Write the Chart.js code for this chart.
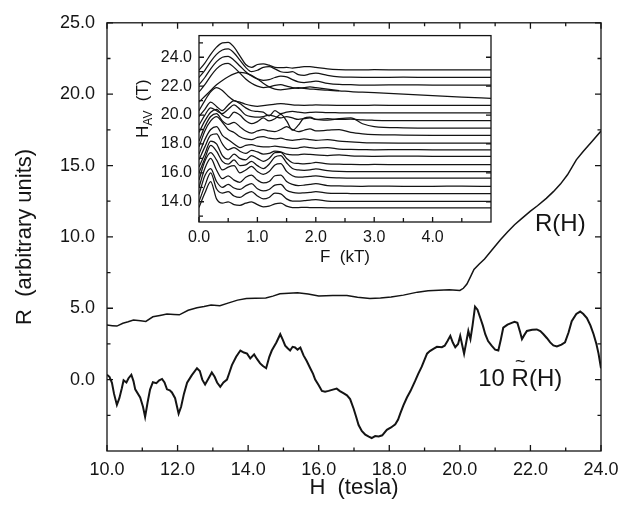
<!DOCTYPE html>
<html>
<head>
<meta charset="utf-8">
<script src="https://cdn.jsdelivr.net/npm/chart.js@4.4.0/dist/chart.umd.min.js"></script>
<style>
  html, body { margin: 0; padding: 0; background: #fff; }
  #wrap { position: relative; width: 629px; height: 505px; }
  #mainChart { position: absolute; left: 0; top: 0; }
  #insetChart { position: absolute; left: 120px; top: 19px; }
</style>
</head>
<body>
<div id="wrap">
  <canvas id="mainChart" width="629" height="505"></canvas>
  <canvas id="insetChart" width="380" height="263"></canvas>
</div>
<script>
// Main panel: R(H)
const rH   = [10.0, 10.15, 10.28, 10.45, 10.6, 10.75, 10.95, 11.1, 11.3, 11.5,
              11.7, 11.9, 12.05, 12.3, 12.55, 12.75, 12.95, 13.2, 13.45, 13.7,
              13.95, 14.2, 14.5, 14.7, 14.9, 15.15, 15.4, 15.7, 16.0, 16.4,
              16.8, 17.1, 17.45, 17.75, 18.05, 18.4, 18.8, 19.1, 19.4, 19.7,
              20.0, 20.1, 20.2, 20.3, 20.4, 20.55, 20.7, 20.95, 21.15, 21.35,
              21.55, 21.75, 22.0, 22.2, 22.45, 22.65, 22.85, 23.05, 23.3, 23.5,
              23.75, 24.0];
const rVal = [3.82, 3.78, 3.75, 3.95, 4.05, 4.18, 4.12, 4.08, 4.40, 4.50,
              4.59, 4.56, 4.54, 4.86, 5.04, 5.12, 5.22, 5.18, 5.38, 5.57,
              5.68, 5.70, 5.72, 5.85, 6.02, 6.05, 6.09, 6.00, 5.86, 5.90,
              5.90, 5.78, 5.68, 5.72, 5.79, 5.92, 6.13, 6.22, 6.27, 6.29,
              6.25, 6.40, 6.70, 7.20, 7.72, 8.10, 8.45, 9.20, 9.80, 10.35,
              10.85, 11.28, 11.80, 12.18, 12.70, 13.17, 13.70, 14.35, 15.40, 16.00,
              16.70, 17.42];

// Main panel: 10 R~(H)
const tildeH = [10.0, 10.07, 10.14, 10.2, 10.28, 10.35, 10.42, 10.47, 10.55, 10.61,
                10.69, 10.75, 10.8, 10.94, 11.02, 11.08, 11.15, 11.22, 11.3, 11.4,
                11.48, 11.56, 11.63, 11.7, 11.78, 11.84, 11.93, 12.03, 12.1, 12.18,
                12.27, 12.4, 12.55, 12.63, 12.7, 12.78, 12.88, 12.97, 13.05, 13.12,
                13.21, 13.3, 13.4, 13.47, 13.54, 13.66, 13.78, 13.88, 13.97, 14.06,
                14.17, 14.25, 14.34, 14.42, 14.51, 14.6, 14.67, 14.8, 14.91, 14.98,
                15.05, 15.12, 15.19, 15.26, 15.33, 15.4, 15.48, 15.57, 15.66, 15.76,
                15.84, 15.9, 16.0, 16.09, 16.18, 16.28, 16.4, 16.51, 16.6, 16.7,
                16.8, 16.89, 16.99, 17.06, 17.13, 17.22, 17.32, 17.42, 17.5, 17.6,
                17.7, 17.8, 17.93, 18.05, 18.17, 18.25, 18.31, 18.4, 18.5, 18.6,
                18.73, 18.82, 18.92, 19.0, 19.07, 19.15, 19.25, 19.35, 19.49, 19.57,
                19.65, 19.73, 19.8, 19.87, 19.95, 20.01, 20.06, 20.12, 20.18, 20.24,
                20.3, 20.36, 20.43, 20.5, 20.58, 20.65, 20.72, 20.8, 20.9, 21.0,
                21.09, 21.16, 21.23, 21.35, 21.47, 21.55, 21.63, 21.7, 21.76, 21.82,
                21.9, 22.05, 22.18, 22.28, 22.37, 22.47, 22.56, 22.65, 22.75, 22.88,
                22.98, 23.08, 23.17, 23.3, 23.41, 23.5, 23.6, 23.7, 23.79, 23.87,
                23.93, 24.0];
const tildeVal = [0.34, 0.20, -0.22, -1.00, -1.77, -1.30, -0.60, -0.04, -0.20, 0.10,
                  0.34, -0.10, -0.68, -1.25, -1.90, -2.61, -1.60, -0.70, -0.18, -0.25,
                  -0.05, 0.05, -0.20, -0.68, -0.75, -0.90, -1.30, -2.38, -1.90, -1.00,
                  -0.22, 0.30, 0.80, 0.60, 0.00, -0.34, 0.10, 0.50, 0.20, -0.20,
                  -0.50, -0.20, 0.00, 0.50, 1.02, 1.60, 2.04, 1.90, 1.82, 1.48,
                  1.77, 1.45, 1.14, 0.95, 0.80, 1.60, 2.04, 2.60, 3.18, 2.80,
                  2.38, 2.20, 2.04, 2.30, 2.25, 2.10, 2.25, 1.70, 1.30, 0.80,
                  0.40, 0.00, -0.40, -0.79, -0.85, -0.79, -0.70, -0.63, -0.80, -0.95,
                  -1.10, -1.36, -2.04, -2.60, -3.18, -3.60, -3.86, -4.00, -4.09, -3.95,
                  -3.98, -3.90, -3.52, -3.35, -3.13, -2.80, -2.38, -1.80, -1.25, -0.80,
                  -0.11, 0.40, 0.91, 1.40, 1.82, 2.00, 2.16, 2.30, 2.27, 2.38,
                  2.70, 3.07, 2.60, 2.27, 2.50, 3.07, 2.50, 1.82, 2.60, 3.41,
                  2.84, 3.80, 5.11, 4.90, 4.32, 3.80, 3.18, 2.70, 2.38, 2.10,
                  2.04, 2.80, 3.64, 3.85, 3.98, 4.05, 3.98, 3.40, 2.84, 3.10,
                  3.41, 3.50, 3.52, 3.40, 3.18, 2.90, 2.61, 2.40, 2.32, 2.45,
                  2.61, 3.30, 4.09, 4.60, 4.77, 4.60, 4.32, 3.80, 3.18, 2.50,
                  1.82, 0.80];

const mainHTicks = [10, 12, 14, 16, 18, 20, 22, 24];
const mainRTicks = [0, 5, 10, 15, 20, 25];
const mainHMinor = [11, 13, 15, 17, 19, 21, 23];
const mainRMinor = [-2.5, 2.5, 7.5, 12.5, 17.5, 22.5];

// Inset: Fourier spectra, one per averaging field H_AV
const insetF = [0, 0.1, 0.2, 0.3, 0.4, 0.5, 0.6, 0.7, 0.8, 0.9,
                1.0, 1.1, 1.2, 1.3, 1.4, 1.5, 1.6, 1.7, 1.8, 1.9,
                2.0, 2.2, 2.4, 2.6, 2.8, 3.0, 3.5, 4.0, 4.5, 5.0];
const h135 = [13.60, 14.60, 15.40, 14.20, 13.90, 14.00, 13.80, 13.75, 13.90, 14.00,
              13.80, 13.65, 13.70, 13.85, 13.90, 13.70, 13.60, 13.60, 13.62, 13.60,
              13.60, 13.58, 13.58, 13.57, 13.57, 13.57, 13.58, 13.57, 13.57, 13.57];
const h140 = [14.00, 15.10, 16.00, 14.90, 14.60, 14.70, 14.40, 14.30, 14.55, 14.70,
              14.40, 14.20, 14.30, 14.60, 14.55, 14.20, 14.05, 14.05, 14.08, 14.12,
              14.15, 14.05, 14.03, 14.02, 14.02, 14.03, 14.02, 14.02, 14.03, 14.02];
const h145 = [14.50, 15.80, 16.30, 15.40, 15.00, 15.20, 14.95, 14.85, 15.10, 15.25,
              14.90, 14.75, 14.85, 15.15, 15.20, 14.80, 14.65, 14.60, 14.62, 14.65,
              14.70, 14.60, 14.58, 14.57, 14.56, 14.56, 14.57, 14.56, 14.56, 14.56];
const h150 = [15.00, 16.30, 17.00, 16.20, 15.60, 15.80, 15.50, 15.35, 15.70, 15.85,
              15.50, 15.30, 15.40, 15.80, 15.85, 15.40, 15.20, 15.12, 15.15, 15.20,
              15.25, 15.12, 15.10, 15.08, 15.07, 15.08, 15.07, 15.07, 15.08, 15.07];
const h155 = [15.50, 16.80, 17.40, 16.90, 16.20, 16.40, 16.50, 16.00, 16.20, 16.45,
              16.10, 15.90, 16.10, 16.55, 16.64, 16.10, 15.80, 15.70, 15.72, 15.75,
              15.80, 15.68, 15.65, 15.64, 15.63, 15.63, 15.64, 15.63, 15.63, 15.63];
const h160 = [16.00, 17.00, 17.90, 17.50, 16.80, 16.60, 16.90, 16.50, 16.55, 16.80,
              16.50, 16.30, 16.60, 17.10, 17.20, 16.70, 16.30, 16.20, 16.18, 16.20,
              16.28, 16.15, 16.10, 16.09, 16.08, 16.09, 16.08, 16.08, 16.09, 16.08];
const h165 = [16.40, 17.30, 18.20, 18.00, 17.20, 16.95, 17.30, 17.00, 16.90, 17.20,
              17.00, 16.80, 17.00, 17.40, 17.42, 17.00, 16.70, 16.65, 16.62, 16.65,
              16.72, 16.62, 16.60, 16.58, 16.57, 16.58, 16.57, 16.57, 16.57, 16.57];
const h170 = [16.90, 17.80, 18.60, 18.70, 18.00, 17.60, 17.75, 17.50, 17.35, 17.55,
              17.45, 17.30, 17.35, 17.50, 17.45, 17.30, 17.25, 17.25, 17.30, 17.28,
              17.25, 17.20, 17.25, 17.18, 17.16, 17.15, 17.16, 17.15, 17.15, 17.15];
const h175 = [17.30, 18.30, 19.00, 19.20, 18.60, 18.30, 18.00, 17.75, 17.90, 17.95,
              17.85, 17.80, 17.80, 17.85, 17.80, 17.75, 17.70, 17.72, 17.80, 17.75,
              17.70, 17.75, 17.65, 17.62, 17.61, 17.60, 17.61, 17.60, 17.60, 17.60];
const h180 = [17.80, 18.90, 19.60, 19.90, 19.50, 19.00, 18.80, 18.50, 18.35, 18.30,
              18.45, 18.50, 18.40, 18.35, 18.40, 18.30, 18.25, 18.30, 18.35, 18.30,
              18.25, 18.30, 18.20, 18.15, 18.10, 18.08, 18.06, 18.05, 18.05, 18.05];
const h185 = [18.20, 19.20, 19.90, 20.10, 19.60, 19.35, 19.50, 19.20, 18.90, 18.75,
              18.90, 19.00, 18.90, 18.85, 19.00, 19.20, 19.00, 18.85, 18.95, 19.05,
              18.90, 18.95, 19.00, 18.80, 18.70, 18.65, 18.62, 18.60, 18.59, 18.59];
const h190 = [18.80, 19.60, 20.20, 20.40, 20.00, 19.80, 20.20, 20.00, 19.60, 19.40,
              19.55, 19.80, 19.60, 19.75, 20.05, 19.60, 18.95, 19.30, 19.80, 19.85,
              19.70, 19.65, 19.75, 19.80, 19.40, 19.20, 19.12, 19.10, 19.10, 19.10];
const h195 = [19.30, 20.00, 20.50, 20.30, 20.10, 20.40, 20.70, 20.40, 20.00, 19.90,
              19.85, 19.90, 20.00, 19.90, 19.80, 19.90, 19.80, 19.70, 19.75, 19.80,
              19.70, 19.75, 19.70, 19.72, 19.66, 19.64, 19.62, 19.62, 19.62, 19.62];
const h200 = [19.90, 20.40, 20.90, 20.60, 20.30, 20.70, 21.00, 20.80, 20.50, 20.30,
              20.25, 20.20, 19.95, 20.30, 20.10, 20.20, 20.25, 20.20, 20.15, 20.18,
              20.20, 20.17, 20.16, 20.15, 20.15, 20.15, 20.16, 20.15, 20.15, 20.15];
const h205 = [20.30, 21.00, 21.60, 21.90, 21.70, 21.30, 21.00, 20.90, 20.75, 20.65,
              20.60, 20.65, 20.70, 20.75, 20.80, 20.75, 20.70, 20.68, 20.67, 20.68,
              20.70, 20.68, 20.67, 20.67, 20.67, 20.68, 20.67, 20.67, 20.67, 20.67];
const h210 = [20.90, 21.30, 21.70, 22.10, 22.40, 22.65, 22.85, 22.95, 22.90, 22.75,
              22.50, 22.20, 21.95, 21.80, 21.75, 21.80, 21.85, 21.90, 21.85, 21.80,
              21.78, 21.72, 21.68, 21.62, 21.58, 21.55, 21.45, 21.35, 21.25, 21.16];
const h215 = [21.60, 22.10, 22.70, 23.20, 23.50, 23.58, 23.30, 22.90, 22.50, 22.20,
              22.00, 21.90, 21.95, 22.05, 22.10, 22.00, 21.90, 21.85, 21.90, 21.95,
              21.90, 21.80, 21.70, null, null, null, null, null, null, null];
const h220 = [22.10, 22.60, 23.20, 23.70, 24.00, 24.07, 23.80, 23.40, 23.00, 22.70,
              22.50, 22.40, 22.45, 22.60, 22.70, 22.65, 22.45, 22.30, 22.25, 22.30,
              22.35, 22.20, 22.12, 22.10, 22.08, 22.08, 22.09, 22.08, 22.08, 22.08];
const h225 = [22.60, 23.10, 23.70, 24.20, 24.50, 24.58, 24.30, 23.80, 23.30, 23.00,
              23.10, 23.30, 23.35, 23.20, 23.00, 22.95, 23.00, 22.80, 22.75, 22.85,
              22.90, 22.75, 22.65, 22.62, 22.61, 22.61, 22.62, 22.61, 22.61, 22.61];
const h230 = [23.10, 23.60, 24.20, 24.70, 25.00, 25.03, 24.70, 24.10, 23.50, 23.30,
              23.50, 23.55, 23.45, 23.30, 23.28, 23.30, 23.25, 23.30, 23.35, 23.35,
              23.30, 23.20, 23.15, 23.13, 23.13, 23.14, 23.13, 23.13, 23.13, 23.13];
const insetCurves = [h135, h140, h145, h150, h155, h160, h165, h170, h175, h180,
                     h185, h190, h195, h200, h205, h210, h215, h220, h225, h230];

const insetFTicks = [0, 1, 2, 3, 4];
const insetHTicks = [14, 16, 18, 20, 22, 24];
const insetFMinor = [0.5, 1.5, 2.5, 3.5, 4.5];
const insetHMinor = [13, 15, 17, 19, 21, 23, 25];

const FONT = 'Liberation Sans';
const INK = '#141414';

// box frame + inward tick marks on all sides
function tickRun(ctx, list, scale, a, side, len) {
  list.forEach(v => {
    const p = scale.getPixelForValue(v);
    if (side === 'bottom') { ctx.moveTo(p, a.bottom); ctx.lineTo(p, a.bottom - len); }
    if (side === 'top') { ctx.moveTo(p, a.top); ctx.lineTo(p, a.top + len); }
    if (side === 'left') { ctx.moveTo(a.left, p); ctx.lineTo(a.left + len, p); }
    if (side === 'right') { ctx.moveTo(a.right, p); ctx.lineTo(a.right - len, p); }
  });
}

const frameTicks = {
  id: 'frameTicks',
  beforeDraw(chart, args, opts) {
    if (!opts.fill) return;
    const a = chart.chartArea;
    chart.ctx.save();
    chart.ctx.fillStyle = '#fff';
    chart.ctx.fillRect(a.left, a.top, a.right - a.left, a.bottom - a.top);
    chart.ctx.restore();
  },
  afterDraw(chart, args, opts) {
    const {ctx, chartArea: a, scales} = chart;
    ctx.save();
    ctx.strokeStyle = INK;
    ctx.lineWidth = 1.3;
    ctx.strokeRect(a.left, a.top, a.right - a.left, a.bottom - a.top);
    ctx.beginPath();
    opts.sides.forEach(side => {
      const scale = (side === 'bottom' || side === 'top') ? scales.x : scales.y;
      const marks = (side === 'bottom' || side === 'top') ? opts.x : opts.y;
      tickRun(ctx, marks.major, scale, a, side, opts.major);
      if (!(opts.noMinor || []).includes(side)) {
        tickRun(ctx, marks.minor, scale, a, side, opts.minor);
      }
    });
    ctx.stroke();
    ctx.restore();
  }
};

// curve names on the main panel
const curveLabels = {
  id: 'curveLabels',
  afterDatasetsDraw(chart) {
    const {ctx, scales: {x, y}} = chart;
    ctx.save();
    ctx.fillStyle = INK;
    ctx.font = '24px "' + FONT + '"';
    ctx.textBaseline = 'alphabetic';
    ctx.fillText('R(H)', x.getPixelForValue(22.13), y.getPixelForValue(10.4));
    const lx = x.getPixelForValue(20.52);
    const ly = y.getPixelForValue(-0.43);
    ctx.fillText('10 R(H)', lx, ly);
    const rx = lx + ctx.measureText('10 ').width + ctx.measureText('R').width / 2;
    ctx.font = '18px "' + FONT + '"';
    ctx.textAlign = 'center';
    ctx.fillText('~', rx, ly - 19);
    ctx.restore();
  }
};

// H_AV (T) title with subscript
const insetYTitle = {
  id: 'insetYTitle',
  afterDraw(chart) {
    const ctx = chart.ctx;
    ctx.save();
    ctx.fillStyle = INK;
    ctx.translate(28, 119);
    ctx.rotate(-Math.PI / 2);
    ctx.textBaseline = 'alphabetic';
    ctx.font = '17px "' + FONT + '"';
    ctx.fillText('H', 0, 0);
    let w = ctx.measureText('H').width;
    ctx.font = '12px "' + FONT + '"';
    ctx.fillText('AV', w, 4);
    w += ctx.measureText('AV').width;
    ctx.font = '17px "' + FONT + '"';
    ctx.fillText('  (T)', w, 0);
    ctx.restore();
  }
};

new Chart(document.getElementById('mainChart'), {
  type: 'line',
  data: {
    datasets: [
      {
        data: rH.map((h, i) => ({x: h, y: rVal[i]})),
        borderColor: INK, borderWidth: 1.5, pointRadius: 0, tension: 0
      },
      {
        data: tildeH.map((h, i) => ({x: h, y: tildeVal[i]})),
        borderColor: INK, borderWidth: 2, pointRadius: 0, tension: 0
      }
    ]
  },
  options: {
    responsive: false,
    animation: false,
    layout: { padding: { left: 0, top: 11, right: 28, bottom: 0 } },
    plugins: {
      legend: { display: false },
      tooltip: { enabled: false },
      frameTicks: {
        major: 6, minor: 3.5,
        sides: ['bottom', 'top', 'left', 'right'],
        x: { major: mainHTicks, minor: mainHMinor },
        y: { major: mainRTicks, minor: mainRMinor }
      }
    },
    scales: {
      x: {
        type: 'linear', min: 10, max: 24,
        grid: { display: false, drawTicks: false },
        border: { display: false },
        afterBuildTicks: s => { s.ticks = mainHTicks.map(v => ({value: v})); },
        afterFit: s => { s.height = 54; },
        ticks: {
          padding: 8, color: INK, maxRotation: 0, autoSkip: false,
          font: { family: FONT, size: 18 },
          callback: v => v.toFixed(1)
        },
        title: {
          display: true, text: 'H  (tesla)', color: INK,
          font: { family: FONT, size: 22 }, padding: { top: 0, bottom: 4 }
        }
      },
      y: {
        type: 'linear', min: -5, max: 25,
        grid: { display: false, drawTicks: false },
        border: { display: false },
        afterBuildTicks: s => { s.ticks = mainRTicks.map(v => ({value: v})); },
        afterFit: s => { s.width = 107; },
        ticks: {
          padding: 12, color: INK,
          font: { family: FONT, size: 18 },
          callback: v => v.toFixed(1)
        },
        title: {
          display: true, text: 'R  (arbitrary units)', color: INK,
          font: { family: FONT, size: 22 }, padding: { top: 12, bottom: 0 }
        }
      }
    }
  },
  plugins: [frameTicks, curveLabels]
});

new Chart(document.getElementById('insetChart'), {
  type: 'line',
  data: {
    datasets: insetCurves.map(c => ({
      data: insetF.map((f, i) => ({x: f, y: c[i]})),
      borderColor: INK, borderWidth: 1.25, pointRadius: 0,
      cubicInterpolationMode: 'monotone', spanGaps: false
    }))
  },
  options: {
    responsive: false,
    animation: false,
    layout: { padding: { left: 0, top: 10, right: 9, bottom: 0 } },
    plugins: {
      legend: { display: false },
      tooltip: { enabled: false },
      frameTicks: {
        fill: true, major: 5, minor: 4,
        sides: ['bottom', 'left', 'right'], noMinor: ['right'],
        x: { major: insetFTicks, minor: insetFMinor },
        y: { major: insetHTicks, minor: insetHMinor }
      }
    },
    scales: {
      x: {
        type: 'linear', min: 0, max: 5,
        grid: { display: false, drawTicks: false },
        border: { display: false },
        afterBuildTicks: s => { s.ticks = insetFTicks.map(v => ({value: v})); },
        afterFit: s => { s.height = 60; },
        ticks: {
          padding: 6, color: INK, maxRotation: 0, autoSkip: false,
          font: { family: FONT, size: 16 },
          callback: v => v.toFixed(1)
        },
        title: {
          display: true, text: 'F  (kT)', color: INK,
          font: { family: FONT, size: 17 }, padding: { top: 0, bottom: 14 }
        }
      },
      y: {
        type: 'linear', min: 12.6, max: 25.5,
        grid: { display: false, drawTicks: false },
        border: { display: false },
        afterBuildTicks: s => { s.ticks = insetHTicks.map(v => ({value: v})); },
        afterFit: s => { s.width = 79; },
        ticks: {
          padding: 7, color: INK,
          font: { family: FONT, size: 16 },
          callback: v => v.toFixed(1)
        }
      }
    }
  },
  plugins: [frameTicks, insetYTitle]
});
</script>
</body>
</html>
